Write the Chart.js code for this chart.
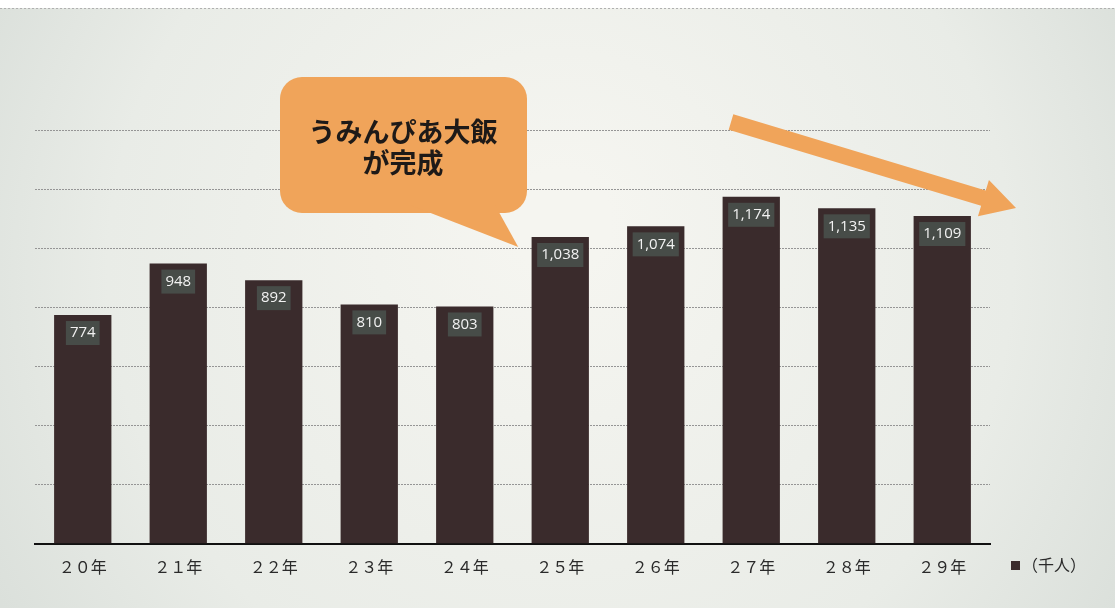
<!DOCTYPE html>
<html>
<head>
<meta charset="utf-8">
<script src="https://cdn.jsdelivr.net/npm/chart.js@4.4.1/dist/chart.umd.min.js"></script>
<style>
  html, body { margin: 0; padding: 0; background: #ffffff; }
  #wrap { width: 1115px; height: 608px; }
</style>
</head>
<body>
<div id="wrap"><canvas id="chart" width="1115" height="608"></canvas></div>
<script>
// Visitors per year (thousand people)
const years = ['２０年', '２１年', '２２年', '２３年', '２４年', '２５年', '２６年', '２７年', '２８年', '２９年'];
const visitors = [774, 948, 892, 810, 803, 1038, 1074, 1174, 1135, 1109];
const unitLabel = '（千人）';
const calloutLines = ['うみんぴあ大飯', 'が完成'];

const orange = '#f0a45a';
const barColor = '#3a2b2c';

// Scanned-paper background
const backgroundPlugin = {
  id: 'paper',
  beforeDraw(chart) {
    const { ctx, width, height } = chart;
    ctx.save();
    const g = ctx.createRadialGradient(560, 220, 50, 560, 300, 720);
    g.addColorStop(0, '#f5f5f0');
    g.addColorStop(0.6, '#e9ece7');
    g.addColorStop(1, '#d5dbd6');
    ctx.fillStyle = g;
    ctx.fillRect(0, 0, width, height);
    // white strip at the top of the scan
    ctx.fillStyle = '#ffffff';
    ctx.fillRect(0, 0, width, 8);
    ctx.strokeStyle = '#b0b0b0';
    ctx.setLineDash([2, 2]);
    ctx.beginPath();
    ctx.moveTo(0, 8.5);
    ctx.lineTo(width, 8.5);
    ctx.stroke();
    ctx.restore();
  }
};

// Value boxes at the top of each bar
const valueLabels = {
  id: 'valueLabels',
  afterDatasetsDraw(chart) {
    const { ctx } = chart;
    const meta = chart.getDatasetMeta(0);
    ctx.save();
    ctx.font = '15px "Open Sans", "DejaVu Sans", sans-serif';
    ctx.textAlign = 'center';
    ctx.textBaseline = 'middle';
    meta.data.forEach((bar, i) => {
      const txt = visitors[i].toLocaleString('en-US');
      const w = ctx.measureText(txt).width + 8;
      const cy = bar.y + 18;
      ctx.fillStyle = '#474c48';
      ctx.fillRect(bar.x - w / 2, cy - 12, w, 24);
      ctx.fillStyle = '#f2f2f2';
      ctx.fillText(txt, bar.x, cy);
    });
    ctx.restore();
  }
};

// Callout, trend arrow and unit legend
const annotations = {
  id: 'annotations',
  afterDraw(chart) {
    const { ctx } = chart;
    const xs = chart.scales.x;
    const ys = chart.scales.y;
    ctx.save();

    // speech bubble pointing at the 25年 bar
    const tipX = xs.getPixelForValue(5) - 42;
    const tipY = ys.getPixelForValue(visitors[5]) + 10;
    ctx.fillStyle = orange;
    ctx.beginPath();
    ctx.roundRect(280, 77, 247, 136, 22);
    ctx.fill();
    ctx.beginPath();
    ctx.moveTo(410, 205);
    ctx.lineTo(tipX, tipY);
    ctx.lineTo(495, 205);
    ctx.closePath();
    ctx.fill();
    ctx.fillStyle = '#1e1a18';
    ctx.font = 'bold 27px "Noto Sans CJK JP", sans-serif';
    ctx.textAlign = 'center';
    ctx.textBaseline = 'middle';
    ctx.fillText(calloutLines[0], 403, 132);
    ctx.fillText(calloutLines[1], 403, 163);

    // downward trend arrow
    const x0 = 731, y0 = 122, x1 = 1016, y1 = 208;
    const ang = Math.atan2(y1 - y0, x1 - x0);
    const headLen = 34, shaft = 8, head = 19;
    ctx.translate(x0, y0);
    ctx.rotate(ang);
    const len = Math.hypot(x1 - x0, y1 - y0);
    ctx.fillStyle = orange;
    ctx.beginPath();
    ctx.moveTo(0, -shaft);
    ctx.lineTo(len - headLen, -shaft);
    ctx.lineTo(len - headLen, -head);
    ctx.lineTo(len, 0);
    ctx.lineTo(len - headLen, head);
    ctx.lineTo(len - headLen, shaft);
    ctx.lineTo(0, shaft);
    ctx.closePath();
    ctx.fill();
    ctx.setTransform(1, 0, 0, 1, 0, 0);

    // unit legend
    ctx.fillStyle = barColor;
    ctx.fillRect(1011, 561, 9, 9);
    ctx.fillStyle = '#2a2a2a';
    ctx.font = '16px "Noto Sans CJK JP", sans-serif';
    ctx.textAlign = 'left';
    ctx.textBaseline = 'middle';
    ctx.fillText(unitLabel, 1022, 565);
    ctx.restore();
  }
};

new Chart(document.getElementById('chart'), {
  type: 'bar',
  data: {
    labels: years,
    datasets: [{
      data: visitors,
      backgroundColor: barColor,
      borderWidth: 0,
      categoryPercentage: 1.0,
      barPercentage: 0.6
    }]
  },
  options: {
    responsive: false,
    animation: false,
    layout: { padding: { left: 35, right: 125, top: 130, bottom: 25 } },
    plugins: {
      legend: { display: false },
      tooltip: { enabled: false }
    },
    scales: {
      x: {
        grid: { display: false },
        border: { display: true, color: '#111111', width: 2 },
        ticks: {
          color: '#2a2a2a',
          padding: 6,
          font: { family: '"Noto Sans CJK JP", sans-serif', size: 16 }
        }
      },
      y: {
        min: 0,
        max: 1400,
        ticks: { display: false, stepSize: 200 },
        grid: { color: '#959595', lineWidth: 1, drawTicks: false },
        border: { display: false, dash: [2, 1] }
      }
    }
  },
  plugins: [backgroundPlugin, valueLabels, annotations]
});
</script>
</body>
</html>
